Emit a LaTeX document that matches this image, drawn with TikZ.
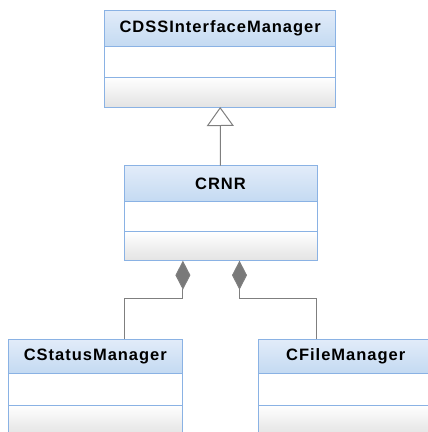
\documentclass[tikz,border=0pt]{standalone}
\usepackage{fontspec}
\setmainfont{Liberation Sans}[LetterSpace=6]
\usepackage{xcolor}
\usepackage{tikz}
\usetikzlibrary{arrows.meta, positioning}
\definecolor{umlborder}{HTML}{8AB2E4}
\definecolor{headtop}{HTML}{E2ECF9}
\definecolor{headbot}{HTML}{C4DAF2}
\definecolor{opsbot}{HTML}{E3E3E3}
\definecolor{linkgray}{HTML}{7F7F7F}
\tikzset{
  part/.style    = {draw=umlborder, line width=1pt, inner sep=0pt, outer sep=0pt,
                    minimum width=#1},
  clshead/.style = {part=#1, top color=headtop, bottom color=headbot,
                    minimum height=36pt, font=\bfseries\fontsize{16.5}{19}\selectfont},
  clsattr/.style = {part=#1, fill=white, minimum height=31pt},
  clsops/.style  = {part=#1, top color=white, bottom color=opsbot, minimum height=30pt},
  inh/.style     = {-{Triangle[open, length=19pt, width=27pt, fill=white]},
                    draw=linkgray, line width=1pt},
  comp/.style    = {{Diamond[length=29pt, width=15pt, fill=linkgray!95!black]}-,
                    draw=linkgray, line width=1pt}
}

\begin{document}
\begin{tikzpicture}[x=1pt, y=-1pt]
  \useasboundingbox (0,0) rectangle (428,432);
  \clip (0,0) rectangle (428,432);
  % base class
  \node[clshead=231pt, anchor=north west] (cdss1) at (104.7,10) {CDSSInterfaceManager};
  \node[clsattr=231pt, below=0pt of cdss1] (cdss2) {};
  \node[clsops=231pt,  below=0pt of cdss2] (cdss3) {};
  % derived class
  \node[clshead=193pt, anchor=north west] (crnr1) at (124,165.7) {CRNR};
  \node[clsattr=193pt, below=0pt of crnr1, minimum height=30pt] (crnr2) {};
  \node[clsops=193pt,  below=0pt of crnr2, minimum height=29pt] (crnr3) {};
  % parts
  \node[clshead=174pt, anchor=north west, minimum height=34pt] (stat1) at (8.3,339) {CStatusManager};
  \node[clsattr=174pt, below=0pt of stat1, minimum height=32pt] (stat2) {};
  \node[clsops=174pt,  below=0pt of stat2] (stat3) {};
  \node[clshead=174pt, anchor=north west, minimum height=34pt] (file1) at (258.7,339) {CFileManager};
  \node[clsattr=174pt, below=0pt of file1, minimum height=32pt] (file2) {};
  \node[clsops=174pt,  below=0pt of file2] (file3) {};
  \coordinate (sbend) at (124,298);
  \coordinate (fbend) at (316.7,298);
  % links
  \draw[inh] (crnr1.north) -- (cdss3.south);
  \draw[comp] ([xshift=-37.6pt]crnr3.south) |- (sbend) -- (sbend |- stat1.north);
  \draw[comp] ([xshift=19pt]crnr3.south) |- (fbend) -- (fbend |- file1.north);
\end{tikzpicture}
\end{document}
